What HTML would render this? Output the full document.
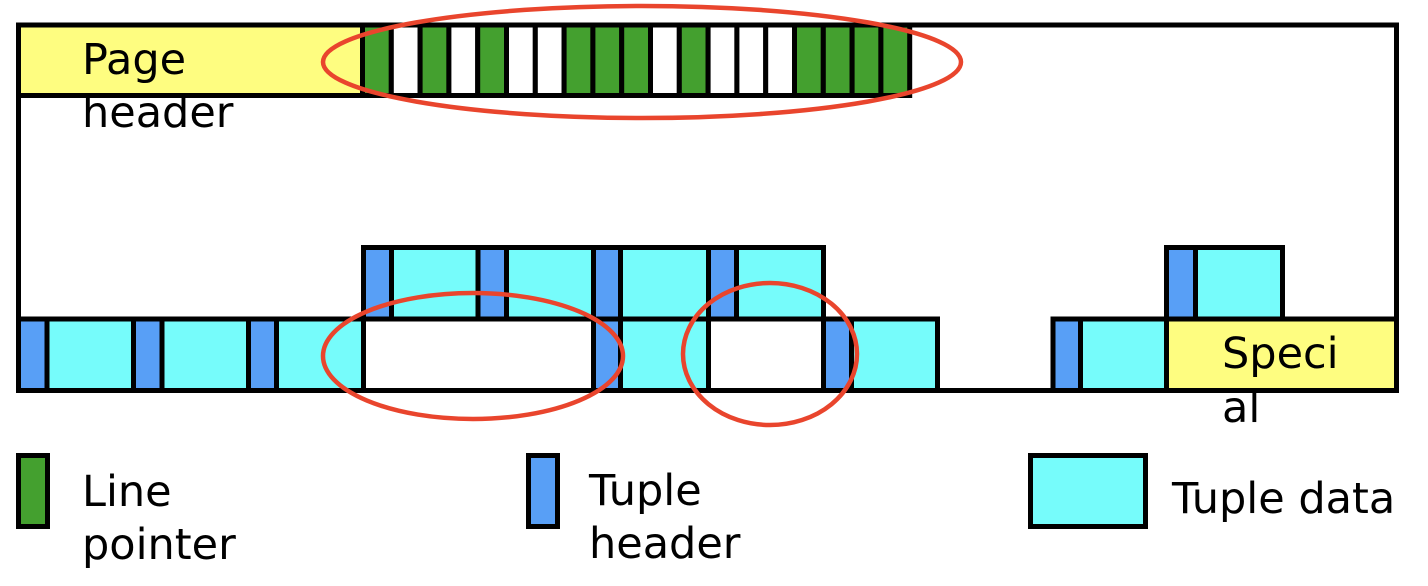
<!DOCTYPE html>
<html>
<head>
<meta charset="utf-8">
<style>
  html,body{margin:0;padding:0;background:#fff;}
  svg{display:block;}
  text{font-family:"DejaVu Sans","Liberation Sans",sans-serif;font-size:43px;fill:#000;}
</style>
</head>
<body>
<svg width="1428" height="586" viewBox="0 0 1428 586" xmlns="http://www.w3.org/2000/svg">
  <g stroke="#000" stroke-width="5" stroke-linejoin="miter">
    <!-- outer page rectangle -->
    <rect x="18.5" y="25" width="1378" height="365.5" fill="#fff"/>
    <!-- page header -->
    <rect x="18.5" y="25" width="344.5" height="70.5" fill="#fefd80"/>
    <!-- line pointers -->
    <rect x="362.5" y="25" width="28.8" height="70.5" fill="#44a02f"/>
    <rect x="391.3" y="25" width="28.8" height="70.5" fill="#fff"/>
    <rect x="420.1" y="25" width="28.8" height="70.5" fill="#44a02f"/>
    <rect x="448.9" y="25" width="28.8" height="70.5" fill="#fff"/>
    <rect x="477.7" y="25" width="28.8" height="70.5" fill="#44a02f"/>
    <rect x="506.5" y="25" width="28.8" height="70.5" fill="#fff"/>
    <rect x="535.3" y="25" width="28.8" height="70.5" fill="#fff"/>
    <rect x="564.1" y="25" width="28.8" height="70.5" fill="#44a02f"/>
    <rect x="592.9" y="25" width="28.8" height="70.5" fill="#44a02f"/>
    <rect x="621.7" y="25" width="28.8" height="70.5" fill="#44a02f"/>
    <rect x="650.5" y="25" width="28.8" height="70.5" fill="#fff"/>
    <rect x="679.3" y="25" width="28.8" height="70.5" fill="#44a02f"/>
    <rect x="708.1" y="25" width="28.8" height="70.5" fill="#fff"/>
    <rect x="736.9" y="25" width="28.8" height="70.5" fill="#fff"/>
    <rect x="765.7" y="25" width="28.8" height="70.5" fill="#fff"/>
    <rect x="794.5" y="25" width="28.8" height="70.5" fill="#44a02f"/>
    <rect x="823.3" y="25" width="28.8" height="70.5" fill="#44a02f"/>
    <rect x="852.1" y="25" width="28.8" height="70.5" fill="#44a02f"/>
    <rect x="880.9" y="25" width="28.8" height="70.5" fill="#44a02f"/>

    <!-- upper tuple row -->
    <rect x="363.5" y="247.5" width="28" height="71.5" fill="#589ff6"/>
    <rect x="391.5" y="247.5" width="86.5" height="71.5" fill="#76fcfb"/>
    <rect x="478" y="247.5" width="28.5" height="71.5" fill="#589ff6"/>
    <rect x="506.5" y="247.5" width="87" height="71.5" fill="#76fcfb"/>
    <rect x="593.5" y="247.5" width="27" height="71.5" fill="#589ff6"/>
    <rect x="620.5" y="247.5" width="88" height="71.5" fill="#76fcfb"/>
    <rect x="708.5" y="247.5" width="28" height="71.5" fill="#589ff6"/>
    <rect x="736.5" y="247.5" width="87" height="71.5" fill="#76fcfb"/>

    <!-- upper right tuple -->
    <rect x="1166.5" y="247.5" width="29" height="71.5" fill="#589ff6"/>
    <rect x="1195.5" y="247.5" width="87" height="71.5" fill="#76fcfb"/>

    <!-- bottom tuple row -->
    <rect x="18.5" y="319" width="28.5" height="71.5" fill="#589ff6"/>
    <rect x="47" y="319" width="86.5" height="71.5" fill="#76fcfb"/>
    <rect x="133.5" y="319" width="28.5" height="71.5" fill="#589ff6"/>
    <rect x="162" y="319" width="86.5" height="71.5" fill="#76fcfb"/>
    <rect x="248.5" y="319" width="28" height="71.5" fill="#589ff6"/>
    <rect x="276.5" y="319" width="87" height="71.5" fill="#76fcfb"/>
    <rect x="363.5" y="319" width="230" height="71.5" fill="#fff"/>
    <rect x="593.5" y="319" width="27" height="71.5" fill="#589ff6"/>
    <rect x="620.5" y="319" width="88" height="71.5" fill="#76fcfb"/>
    <rect x="708.5" y="319" width="115" height="71.5" fill="#fff"/>
    <rect x="823.5" y="319" width="28" height="71.5" fill="#589ff6"/>
    <rect x="851.5" y="319" width="86" height="71.5" fill="#76fcfb"/>

    <rect x="1053" y="319" width="27.5" height="71.5" fill="#589ff6"/>
    <rect x="1080.5" y="319" width="86" height="71.5" fill="#76fcfb"/>
    <rect x="1166.5" y="319" width="230" height="71.5" fill="#fefd80"/>

    <!-- legend boxes -->
    <rect x="18.5" y="455.5" width="29" height="71" fill="#44a02f"/>
    <rect x="528.5" y="455.5" width="29" height="71" fill="#589ff6"/>
    <rect x="1030.5" y="455.5" width="115" height="71" fill="#76fcfb"/>
  </g>

  <!-- labels -->
  <text x="82" y="74">Page</text>
  <text x="82" y="127">header</text>
  <text x="1222" y="368">Speci</text>
  <text x="1222" y="422">al</text>

  <text x="82" y="506">Line</text>
  <text x="82" y="559">pointer</text>
  <text x="589" y="505">Tuple</text>
  <text x="589" y="558">header</text>
  <text x="1172" y="513">Tuple data</text>

  <!-- red highlight ellipses -->
  <g fill="none" stroke="#e9452d" stroke-width="4.5">
    <ellipse cx="642" cy="62" rx="319" ry="56"/>
    <ellipse cx="473" cy="356" rx="150" ry="63"/>
    <ellipse cx="770" cy="354" rx="87" ry="71"/>
  </g>
</svg>
</body>
</html>
